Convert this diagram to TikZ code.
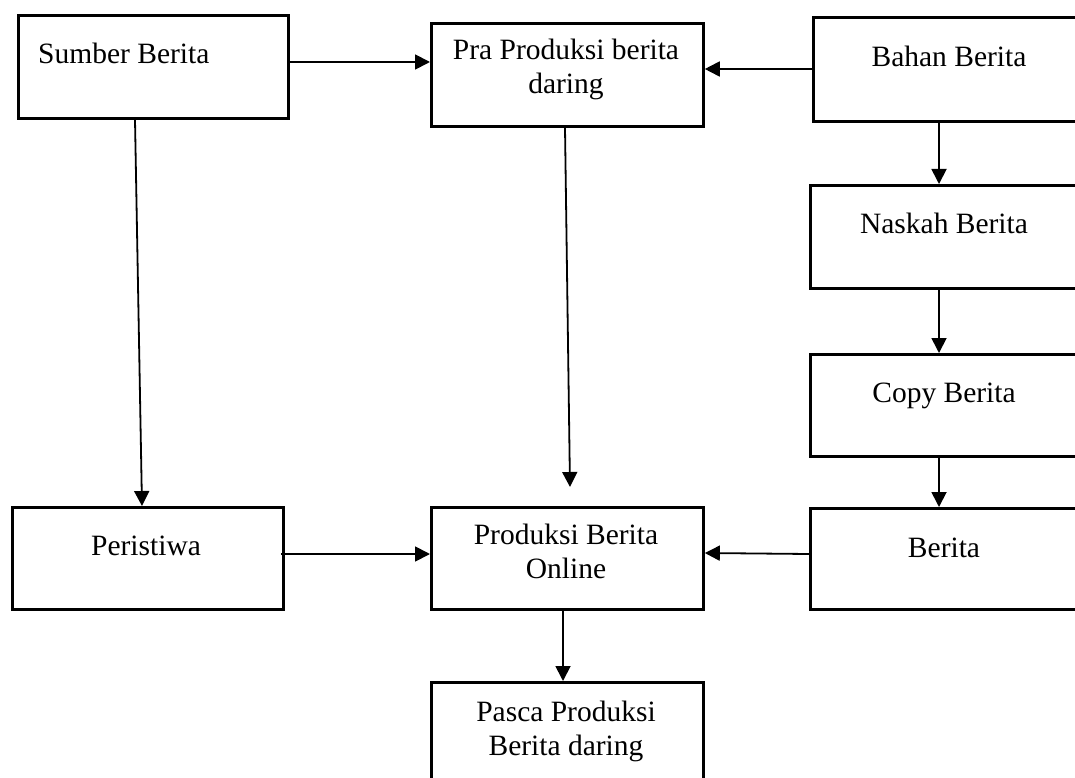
\documentclass[tikz,border=0pt]{standalone}
\usepackage{fontspec}
\setmainfont{Liberation Serif}
\usetikzlibrary{arrows.meta}
\begin{document}
\begin{tikzpicture}[x=1pt,y=-1pt]
    \tikzstyle{K}=[draw,line width=2.8pt,anchor=north west,inner sep=0pt]
    \tikzstyle{T}=[anchor=base,align=center,inner sep=0pt,font=\fontsize{29.5}{34}\selectfont]
    \tikzstyle{P}=[line width=1.8pt,-{Triangle[length=15pt,width=15pt]}]

    \clip (0,0) rectangle (1075,778);

    % Kotak
    \node [K,minimum width=270pt,minimum height=103pt] (sumber) at (17,14) {};
    \node [K,minimum width=272pt,minimum height=103pt] (pra) at (430,22) {};
    \node [K,minimum width=290pt,minimum height=104pt] (bahan) at (812,16) {};
    \node [K,minimum width=290pt,minimum height=103pt] (naskah) at (809,184) {};
    \node [K,minimum width=290pt,minimum height=102pt] (copy) at (809,353) {};
    \node [K,minimum width=290pt,minimum height=101pt] (berita) at (809,507) {};
    \node [K,minimum width=271pt,minimum height=102pt] (peristiwa) at (11,506) {};
    \node [K,minimum width=272pt,minimum height=102pt] (produksi) at (430,506) {};
    \node [K,minimum width=272pt,minimum height=120pt] (pasca) at (430,681) {};

    % Teks
    \node [T,anchor=base west] (tsumber) at (38,64) {Sumber Berita};
    \node [T] (tpra) at (566,94) {Pra Produksi berita\\daring};
    \node [T] (tbahan) at (949,67) {Bahan Berita};
    \node [T] (tnaskah) at (944,233) {Naskah Berita};
    \node [T] (tcopy) at (944,402) {Copy Berita};
    \node [T] (tberita) at (944,557) {Berita};
    \node [T] (tperistiwa) at (146,555) {Peristiwa};
    \node [T] (tproduksi) at (566,578) {Produksi Berita\\Online};
    \node [T] (tpasca) at (566,755) {Pasca Produksi\\Berita daring};

    % Panah
    \draw [P] ([xshift=-2pt,yshift=-48pt]sumber.north east) -- ([yshift=-40pt]pra.north west);
    \draw [P] ([yshift=-53pt]bahan.north west) -- ([yshift=-47pt]pra.north east);
    \draw [P] ([xshift=127pt]bahan.south west) -- ([xshift=130pt]naskah.north west);
    \draw [P] ([xshift=130pt]naskah.south west) -- ([xshift=130pt]copy.north west);
    \draw [P] ([xshift=130pt]copy.south west) -- ([xshift=130pt]berita.north west);
    \draw [P] ([xshift=118pt]sumber.south west) -- ([xshift=131pt]peristiwa.north west);
    \draw [P] ([xshift=135pt]pra.south west) -- ([xshift=140pt,yshift=19pt]produksi.north west);
    \draw [P] ([xshift=-4pt,yshift=-48pt]peristiwa.north east) -- ([yshift=-48pt]produksi.north west);
    \draw [P] ([yshift=-47pt]berita.north west) -- ([yshift=-47pt]produksi.north east);
    \draw [P] ([xshift=133pt]produksi.south west) -- ([xshift=133pt]pasca.north west);
\end{tikzpicture}
\end{document}
